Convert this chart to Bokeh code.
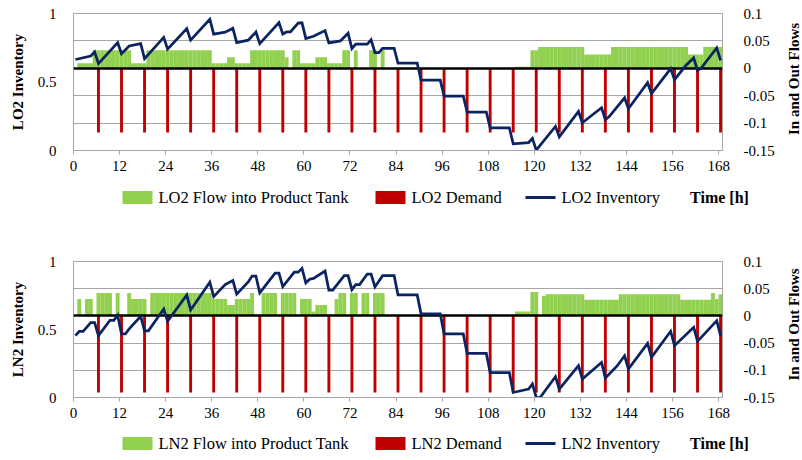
import math
from bokeh.plotting import figure
from bokeh.models import Range1d, LinearAxis, FixedTicker, Label, ColumnDataSource
from bokeh.layouts import column, row
from bokeh.transform import dodge
from bokeh.core.properties import value
from bokeh.embed import file_html
from bokeh.resources import INLINE

FONT = "Liberation Serif"

hours = list(range(169))
time_ticks = [0, 12, 24, 36, 48, 60, 72, 84, 96, 108, 120, 132, 144, 156, 168]
demand_hours = [6, 12, 18, 24, 30, 36, 42, 48, 54, 60, 66, 72, 78, 84,
                90, 96, 102, 108, 114, 120, 126, 132, 138, 144, 150, 156, 162, 168]
inv_ticks = [0, 0.5, 1]
flow_ticks = [-0.15, -0.1, -0.05, 0, 0.05, 0.1]

# ---------------- LO2 ----------------
LO2_flow = [
    0, 0.009, 0.009, 0.009, 0.009, 0.033, 0.033, 0.033, 0.033, 0.033, 0.033, 0.033,
    0.033, 0.033, 0.033, 0.009, 0.009, 0.009, 0.009, 0.033, 0.033, 0.033, 0.033, 0.033,
    0.033, 0.033, 0.033, 0.033, 0.033, 0.033, 0.033, 0.033, 0.033, 0.033, 0.033, 0.033,
    0.009, 0.009, 0.009, 0.009, 0.02, 0.02, 0.009, 0.009, 0.009, 0.009, 0.033, 0.033,
    0.033, 0.033, 0.033, 0.033, 0.033, 0.033, 0.033, 0.02, 0, 0.033, 0.033, 0.009,
    0.009, 0.009, 0.009, 0.02, 0.02, 0.02, 0.009, 0.009, 0.009, 0.009, 0.033, 0.033,
    0, 0.033, 0, 0, 0, 0.033, 0.033, 0, 0.033, 0, 0, 0,
    0, 0, 0, 0, 0, 0, 0, 0, 0, 0, 0, 0,
    0, 0, 0, 0, 0, 0, 0, 0, 0, 0, 0, 0,
    0, 0, 0, 0, 0, 0, 0, 0.003, 0.003, 0.003, 0.003, 0.033,
    0.033, 0.039, 0.039, 0.039, 0.039, 0.039, 0.039, 0.039, 0.039, 0.039, 0.039, 0.039,
    0.039, 0.025, 0.025, 0.025, 0.025, 0.025, 0.025, 0.025, 0.039, 0.039, 0.039, 0.039,
    0.039, 0.039, 0.039, 0.039, 0.039, 0.039, 0.039, 0.039, 0.039, 0.039, 0.039, 0.039,
    0.039, 0.039, 0.039, 0.039, 0.025, 0.025, 0.025, 0.025, 0.039, 0.039, 0.039, 0.039,
    0.039,
]
LO2_demand = [-0.117, -0.117, -0.117, -0.117, -0.117, -0.117, -0.117, -0.117, -0.117, -0.117,
              -0.117, -0.117, -0.117, -0.117, -0.117, -0.117, -0.117, -0.117, -0.117, -0.117,
              -0.117, -0.117, -0.117, -0.117, -0.117, -0.117, -0.117, -0.117]
LO2_inv_t = [0, 4, 5, 6, 11, 12, 14, 17, 18, 23, 24, 29, 30, 35, 36, 39, 41, 42, 45, 47,
             48, 53, 54, 55, 56, 58, 59, 60, 62, 65, 66, 69, 71, 72, 73, 76, 77, 78, 79, 80,
             83, 84, 89, 90, 95, 96, 101, 102, 107, 108, 113, 114, 118, 119, 120, 125, 126,
             131, 132, 137, 138, 139, 143, 144, 149, 150, 155, 156, 159, 161, 162, 163, 167, 168]
LO2_inv_v = [0.664, 0.690, 0.720, 0.634, 0.788, 0.707, 0.763, 0.780, 0.671, 0.826, 0.740,
             0.890, 0.805, 0.958, 0.849, 0.864, 0.892, 0.788, 0.805, 0.865,
             0.780, 0.934, 0.850, 0.865, 0.865, 0.930, 0.932, 0.817, 0.834, 0.875, 0.785,
             0.800, 0.856, 0.744, 0.776, 0.776, 0.808, 0.714, 0.714, 0.746,
             0.746, 0.637, 0.637, 0.514, 0.514, 0.397, 0.397, 0.280, 0.280, 0.166, 0.166,
             0.049, 0.058, 0.088, 0.003, 0.176, 0.100,
             0.285, 0.202, 0.312, 0.225, 0.248, 0.385, 0.305, 0.495, 0.415, 0.598, 0.517,
             0.622, 0.676, 0.582, 0.604, 0.749, 0.658]

# ---------------- LN2 ----------------
LN2_flow = [
    0, 0.031, 0, 0.031, 0.031, 0, 0.042, 0.042, 0.042, 0.042, 0, 0.042,
    0, 0, 0.042, 0.031, 0.031, 0.031, 0.031, 0, 0.042, 0.042, 0.042, 0.042,
    0.042, 0.042, 0.042, 0.042, 0.042, 0.042, 0.042, 0.042, 0.042, 0.042, 0.042, 0.042,
    0.031, 0.031, 0.031, 0.031, 0.02, 0.02, 0.031, 0.031, 0.031, 0.031, 0.042, 0,
    0, 0.042, 0.042, 0.042, 0.042, 0, 0.042, 0.042, 0.042, 0.042, 0, 0.031,
    0.031, 0.031, 0.008, 0.02, 0.02, 0.02, 0, 0, 0.031, 0.042, 0.042, 0,
    0.042, 0.042, 0, 0.042, 0.042, 0, 0.042, 0.042, 0.042, 0, 0, 0,
    0, 0, 0, 0, 0, 0, 0, 0, 0, 0, 0, 0,
    0, 0, 0, 0, 0, 0, 0, 0, 0, 0, 0, 0,
    0, 0, 0, 0, 0, 0, 0, 0.008, 0.008, 0.008, 0.008, 0.044,
    0.044, 0, 0.037, 0.04, 0.04, 0.04, 0.04, 0.04, 0.04, 0.04, 0.04, 0.04,
    0.04, 0.0295, 0.0295, 0.0295, 0.0295, 0.0295, 0.0295, 0.0295, 0.0295, 0.0295, 0.04, 0.04,
    0.04, 0.04, 0.04, 0.04, 0.04, 0.04, 0.04, 0.04, 0.04, 0.04, 0.04, 0.04,
    0.04, 0.04, 0.0295, 0.0295, 0.0295, 0.0295, 0.0295, 0.0295, 0.0295, 0.0295, 0.042, 0.031,
    0.04,
]
LN2_demand = [-0.141, -0.141, -0.141, -0.141, -0.141, -0.141, -0.141, -0.141, -0.141, -0.141,
              -0.141, -0.141, -0.141, -0.141, -0.141, -0.141, -0.141, -0.141, -0.141, -0.141,
              -0.141, -0.141, -0.141, -0.141, -0.141, -0.141, -0.141, -0.141]
LN2_inv_t = [0, 1, 2, 4, 5, 6, 9, 10, 11, 12, 13, 14, 17, 18, 19, 23, 24, 29, 30, 35, 36,
             39, 41, 42, 45, 46, 47, 48, 52, 53, 54, 57, 58, 59, 60, 61, 62, 65, 66, 67, 70,
             71, 72, 73, 74, 76, 77, 78, 80, 83, 84, 89, 90, 95, 96, 101, 102, 107, 108,
             113, 114, 118, 119, 120, 121, 125, 126, 131, 132, 137, 138, 141, 143, 144,
             149, 150, 155, 156, 161, 162, 167, 168]
LN2_inv_v = [0.455, 0.486, 0.486, 0.550, 0.550, 0.455, 0.568, 0.568, 0.605, 0.467, 0.467,
             0.505, 0.597, 0.490, 0.490, 0.651, 0.560, 0.755, 0.644, 0.848, 0.742,
             0.830, 0.860, 0.760, 0.850, 0.893, 0.893, 0.770, 0.915, 0.915, 0.815, 0.922,
             0.922, 0.950, 0.843, 0.870, 0.876, 0.930, 0.789, 0.789, 0.896,
             0.896, 0.793, 0.830, 0.830, 0.908, 0.908, 0.813, 0.896, 0.896, 0.754, 0.754,
             0.615, 0.615, 0.467, 0.467, 0.324, 0.324, 0.182,
             0.182, 0.037, 0.062, 0.099, 0.000, 0.000, 0.153, 0.062, 0.234, 0.136, 0.258,
             0.143, 0.230, 0.307, 0.209,
             0.398, 0.295, 0.487, 0.381, 0.516, 0.413, 0.565, 0.455]

GREEN = "#92D050"
RED = "#C00000"
NAVY = "#0B2461"
GRID = "#A6A6A6"
W_MAIN = 785
W_SIDE = 17
W_ALL = W_MAIN + W_SIDE


def style_text_axis(ax):
    ax.major_label_text_font = FONT
    ax.major_label_text_font_size = "15px"
    ax.major_label_text_color = "black"
    ax.axis_label_text_font = FONT
    ax.axis_label_text_font_size = "15px"
    ax.axis_label_text_font_style = "bold"
    ax.axis_label_text_color = "black"


def blank(width, height):
    s = figure(width=width, height=height, x_range=Range1d(0, width), y_range=Range1d(0, height),
               output_backend="svg", toolbar_location=None,
               x_axis_type=None, y_axis_type=None, min_border=0,
               background_fill_color="white", border_fill_color="white",
               outline_line_color=None)
    s.grid.visible = False
    return s


def panel(name, flow, demand, inv_t, inv_v, height, b_top, b_bottom):
    p = figure(width=W_MAIN, height=height, x_range=Range1d(0, 169), y_range=Range1d(0, 1),
               output_backend="svg", toolbar_location=None,
               min_border_left=73, min_border_right=63,
               min_border_top=b_top, min_border_bottom=b_bottom,
               background_fill_color="white", border_fill_color="white",
               outline_line_color=GRID, outline_line_width=1)
    p.extra_y_ranges = {"flow": Range1d(-0.15, 0.1)}
    p.xgrid.visible = False
    p.ygrid.ticker = FixedTicker(ticks=[0.2, 0.4, 0.6, 0.8, 1.0])
    p.ygrid.grid_line_color = GRID
    p.ygrid.grid_line_width = 1

    xa = p.xaxis[0]
    xa.ticker = FixedTicker(ticks=time_ticks)
    xa.axis_line_color = GRID
    xa.major_tick_line_color = GRID
    xa.major_tick_out = 4
    xa.major_tick_in = 0
    xa.minor_tick_line_color = None
    xa.major_label_standoff = 6
    style_text_axis(xa)

    ya = p.yaxis[0]
    ya.ticker = FixedTicker(ticks=inv_ticks)
    ya.major_label_overrides = {0: "0", 0.5: "0.5", 1: "1"}
    ya.axis_line_color = None
    ya.major_tick_line_color = None
    ya.minor_tick_line_color = None
    ya.major_label_standoff = 11
    ya.axis_label = name + " Inventory"
    ya.axis_label_standoff = 9
    style_text_axis(ya)

    ra = LinearAxis(y_range_name="flow", ticker=FixedTicker(ticks=flow_ticks))
    ra.major_label_overrides = {-0.15: "-0.15", -0.1: "-0.1", -0.05: "-0.05",
                                0: "0", 0.05: "0.05", 0.1: "0.1"}
    ra.axis_line_color = None
    ra.major_tick_line_color = None
    ra.minor_tick_line_color = None
    ra.major_label_standoff = 15
    style_text_axis(ra)
    p.add_layout(ra, "right")

    fsrc = ColumnDataSource(dict(h=hours, f=flow))
    dsrc = ColumnDataSource(dict(h=demand_hours, d=demand))
    isrc = ColumnDataSource(dict(t=inv_t, v=inv_v))

    p.vbar(x=dodge("h", 0.5, range=p.x_range), width=1.02, top="f", bottom=0,
           y_range_name="flow", fill_color=GREEN, line_color=None, source=fsrc)
    p.vbar(x=dodge("h", 0.5, range=p.x_range), width=0.75, top=0, bottom="d",
           y_range_name="flow", fill_color=RED, line_color=None, source=dsrc)
    p.hspan(y=[0], y_range_name="flow", line_color="black", line_width=2.5)
    p.line(x=dodge("t", 0.5, range=p.x_range), y="v", line_color=NAVY,
           line_width=2.75, line_join="miter", source=isrc)
    return p


def side_label(height, cy):
    s = blank(W_SIDE, height)
    s.add_layout(Label(x=W_SIDE / 2, y=cy, text="In and Out Flows", angle=math.pi / 2,
                       text_align="center", text_baseline="middle", text_font=FONT,
                       text_font_size="15px", text_font_style="bold", text_color="black"))
    return s


def legend_strip(name, height, cy):
    s = blank(W_ALL, height)
    s.quad(left=[122, 375], right=[152, 405], bottom=cy - 6.5, top=cy + 6.5,
           fill_color=[GREEN, RED], line_color=None)
    s.segment(x0=525, y0=cy, x1=555, y1=cy, line_color=NAVY, line_width=3)
    s.text(x=[158, 411, 561], y=cy,
           text=[name + " Flow into Product Tank", name + " Demand", name + " Inventory"],
           text_font=value(FONT), text_font_size=value("16.5px"), text_color="black",
           text_baseline="middle", text_align="left")
    s.text(x=[719], y=cy, text=["Time [h]"], text_font=value(FONT),
           text_font_size=value("16px"), text_font_style="bold", text_color="black",
           text_baseline="middle", text_align="center")
    return s


p1 = panel("LO2", LO2_flow, LO2_demand, LO2_inv_t, LO2_inv_v, 180, 13, 30)
r1 = row(p1, side_label(180, 180 - 86), spacing=0)
s1 = legend_strip("LO2", 70, 53)
p2 = panel("LN2", LN2_flow, LN2_demand, LN2_inv_t, LN2_inv_v, 177, 11, 30)
r2 = row(p2, side_label(177, 177 - 82), spacing=0)
s2 = legend_strip("LN2", 33, 17)

layout = column(r1, s1, r2, s2, spacing=0)
open("out.html", "w").write(file_html(layout, INLINE))
